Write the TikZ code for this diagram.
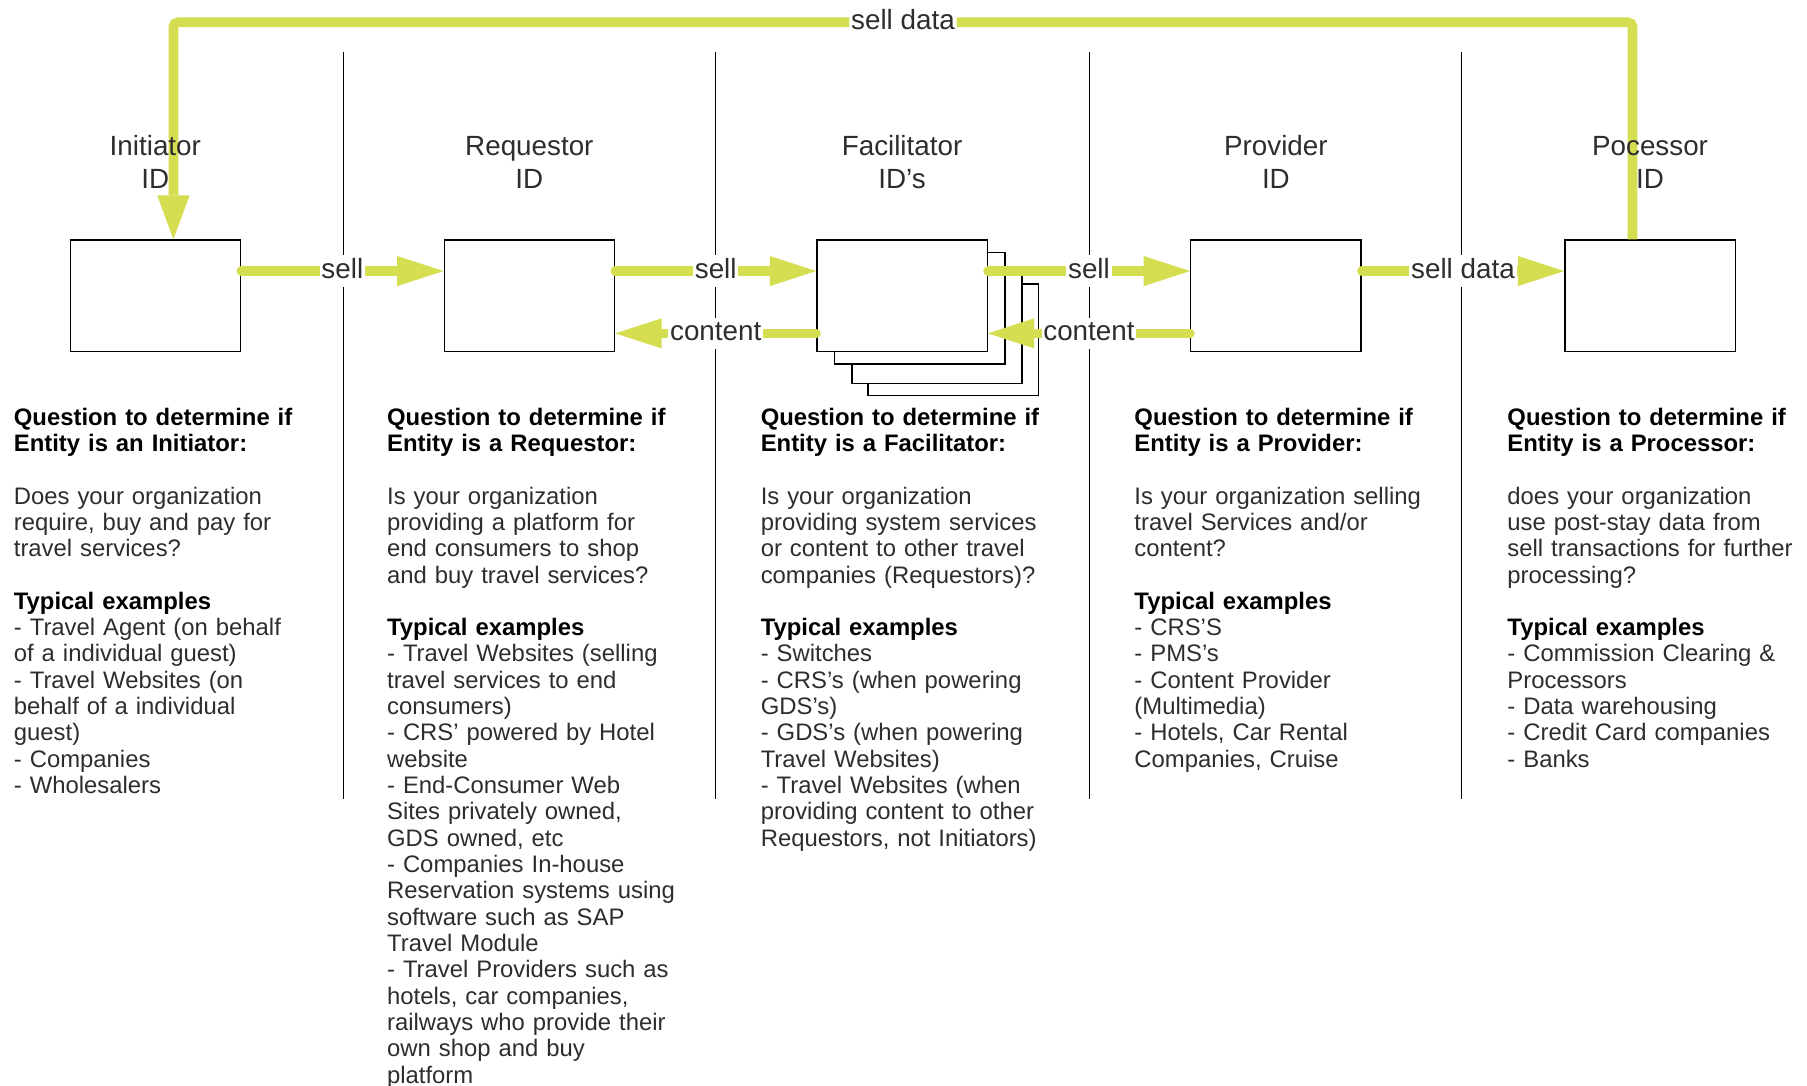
\documentclass[tikz,border=0pt]{standalone}
\usepackage{fontspec}
\setmainfont{Liberation Sans}
\usetikzlibrary{arrows.meta}
\definecolor{lime}{RGB}{212,222,80}
\definecolor{txt}{RGB}{45,45,45}
\begin{document}
\begin{tikzpicture}[x=0.5pt,y=-0.5pt,
  box/.style={draw=black, line width=0.6pt, fill=white, minimum width=73.5pt, minimum height=48.15pt, inner sep=0pt},
  flow/.style={draw=lime, line width=4pt, line cap=round, -{Triangle[length=20pt,width=13pt,line width=0pt]}},
  topflow/.style={draw=lime, line width=4.2pt, line cap=butt, rounded corners=2pt, -{Triangle[length=19pt,width=14pt,line width=0pt]}},
  lab/.style={fill=white, inner xsep=0.8pt, inner ysep=0.35pt, text height=9.6pt, text depth=3.4pt, font=\fontsize{12pt}{14pt}\selectfont, text=txt},
  title/.style={anchor=base, text width=110pt, align=center, inner sep=0pt, font=\fontsize{12pt}{14pt}\selectfont, text=txt},
  desc/.style={anchor=base west, text width=170pt, align=left, inner sep=0pt, font=\fontsize{10.3pt}{11.36pt}\selectfont, text=txt},
  sepline/.style={draw=black, line width=0.5pt}]
\useasboundingbox (0,0) rectangle (1560,936.7);

% separators
\foreach \sx/\nm in {296.4/s1, 618/s2, 940.8/s3, 1262/s4} {
  \coordinate (\nm t) at (\sx,45);
  \coordinate (\nm b) at (\sx,690);
  \draw[sepline] (\nm t) -- (\nm b);
}

% boxes
\node[box] (facD) at (822.95,293.45) {};
\node[box] (facC) at (808.95,282.85) {};
\node[box] (facB) at (794.15,266.15) {};
\node[box] (init) at (134.1,255.35) {};
\node[box] (req)  at (457,255.35) {};
\node[box] (fac)  at (778.75,255.35) {};
\node[box] (prov) at (1101.5,255.35) {};
\node[box] (proc) at (1424.5,255.35) {};

\coordinate (ys) at (0,234);
\coordinate (yc) at (0,287.8);
\coordinate (tr) at (1409.4,19.3);
\coordinate (tl) at (149.7,19.3);

% flows
\draw[flow] (init.east |- ys) -- node[lab]{sell} (req.west |- ys);
\draw[flow] (req.east |- ys) -- node[lab]{sell} (fac.west |- ys);
\draw[flow] (fac.east |- ys) -- node[lab]{sell} (prov.west |- ys);
\draw[flow] (prov.east |- ys) -- node[lab]{sell data} (proc.west |- ys);
\draw[flow] (fac.west |- yc) -- node[lab]{content} (req.east |- yc);
\draw[flow] (prov.west |- yc) -- node[lab]{content} (fac.east |- yc);
\draw[topflow] (proc.north -| tr) -- (tr) -- node[lab]{sell data} (tl) -- (init.north -| tl);

% titles (drawn over the top flow)
\node[title] (tinit) at (134.1,134.5) {Initiator\\ID};
\node[title] (treq)  at (457,134.5)   {Requestor\\ID};
\node[title] (tfac)  at (778.75,134.5) {Facilitator\\ID’s};
\node[title] (tprov) at (1101.5,134.5) {Provider\\ID};
\node[title] (tproc) at (1424.5,134.5) {Pocessor\\ID};

% descriptions
\node[desc] (d1) at (11.6,367) {\textcolor{black}{\textbf{Question to determine if}}\\
\textcolor{black}{\textbf{Entity is an Initiator:}}\\[11.36pt]
Does your organization\\
require, buy and pay for\\
travel services?\\[11.36pt]
\textcolor{black}{\textbf{Typical examples}}\\
- Travel Agent (on behalf\\
of a individual guest)\\
- Travel Websites (on\\
behalf of a individual\\
guest)\\
- Companies\\
- Wholesalers};

\node[desc] (d2) at (333.8,367) {\textcolor{black}{\textbf{Question to determine if}}\\
\textcolor{black}{\textbf{Entity is a Requestor:}}\\[11.36pt]
Is your organization\\
providing a platform for\\
end consumers to shop\\
and buy travel services?\\[11.36pt]
\textcolor{black}{\textbf{Typical examples}}\\
- Travel Websites (selling\\
travel services to end\\
consumers)\\
- CRS’ powered by Hotel\\
website\\
- End-Consumer Web\\
Sites privately owned,\\
GDS owned, etc\\
- Companies In-house\\
Reservation systems using\\
software such as SAP\\
Travel Module\\
- Travel Providers such as\\
hotels, car companies,\\
railways who provide their\\
own shop and buy\\
platform};

\node[desc] (d3) at (656.4,367) {\textcolor{black}{\textbf{Question to determine if}}\\
\textcolor{black}{\textbf{Entity is a Facilitator:}}\\[11.36pt]
Is your organization\\
providing system services\\
or content to other travel\\
companies (Requestors)?\\[11.36pt]
\textcolor{black}{\textbf{Typical examples}}\\
- Switches\\
- CRS’s (when powering\\
GDS’s)\\
- GDS’s (when powering\\
Travel Websites)\\
- Travel Websites (when\\
providing content to other\\
Requestors, not Initiators)};

\node[desc] (d4) at (979,367) {\textcolor{black}{\textbf{Question to determine if}}\\
\textcolor{black}{\textbf{Entity is a Provider:}}\\[11.36pt]
Is your organization selling\\
travel Services and/or\\
content?\\[11.36pt]
\textcolor{black}{\textbf{Typical examples}}\\
- CRS’S\\
- PMS’s\\
- Content Provider\\
(Multimedia)\\
- Hotels, Car Rental\\
Companies, Cruise};

\node[desc] (d5) at (1301,367) {\textcolor{black}{\textbf{Question to determine if}}\\
\textcolor{black}{\textbf{Entity is a Processor:}}\\[11.36pt]
does your organization\\
use post-stay data from\\
sell transactions for further\\
processing?\\[11.36pt]
\textcolor{black}{\textbf{Typical examples}}\\
- Commission Clearing \&\\
Processors\\
- Data warehousing\\
- Credit Card companies\\
- Banks};
\end{tikzpicture}
\end{document}
